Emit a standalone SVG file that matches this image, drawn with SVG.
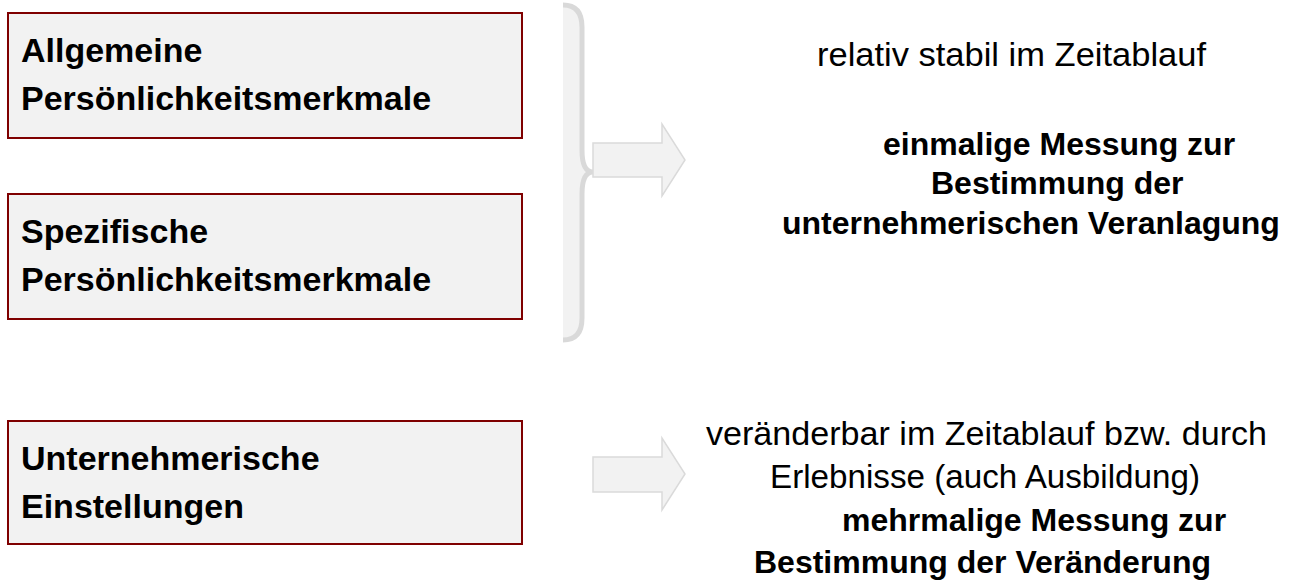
<svg xmlns="http://www.w3.org/2000/svg" width="1296" height="582" viewBox="0 0 1296 582">
<defs>
<style>
.box{fill:#f2f2f2;stroke:#7f0000;stroke-width:2}
.lbl{font-family:"Liberation Sans",Arial,sans-serif;font-weight:bold;font-size:34px;fill:#000}
.rb{font-family:"Liberation Sans",Arial,sans-serif;font-weight:bold;font-size:32px;fill:#000}
.rr{font-family:"Liberation Sans",Arial,sans-serif;font-size:33px;fill:#000}
.arrow{fill:#f2f2f2;stroke:#dadada;stroke-width:1.5}
.brace-fill{fill:#f2f2f2;stroke:none}
.brace{fill:none;stroke:#d9d9d9;stroke-width:5;stroke-linejoin:round}
</style>
</defs>
<rect width="1296" height="582" fill="#ffffff"/>
<g id="node-allgemeine">
<rect class="box" x="8" y="13" width="514" height="125"/>
<text class="lbl" x="21" y="62">Allgemeine</text>
<text class="lbl" x="21" y="110">Persönlichkeitsmerkmale</text>
</g>
<g id="node-spezifische">
<rect class="box" x="8" y="194" width="514" height="125"/>
<text class="lbl" x="21" y="243">Spezifische</text>
<text class="lbl" x="21" y="291">Persönlichkeitsmerkmale</text>
</g>
<g id="node-einstellungen">
<rect class="box" x="8" y="421" width="514" height="123"/>
<text class="lbl" x="21" y="470">Unternehmerische</text>
<text class="lbl" x="21" y="518">Einstellungen</text>
</g>
<g id="connectors">
<path class="brace-fill" d="M563,5 Q582,5 582,27 L582,150 Q582,172 593,172 Q582,172 582,194 L582,318 Q582,340 563,340 Z"/>
<path class="brace" d="M563,5 Q582,5 582,27 L582,150 Q582,172 593,172 Q582,172 582,194 L582,318 Q582,340 563,340"/>
<path class="arrow" d="M593,143 L662,143 L662,124 L685,160 L662,196 L662,177 L593,177 Z"/>
<path class="arrow" d="M593,457 L662,457 L662,438 L685,474 L662,510 L662,492 L593,492 Z"/>
</g>
<g id="node-stabil">
<text class="rr" x="817" y="66" textLength="389" lengthAdjust="spacingAndGlyphs">relativ stabil im Zeitablauf</text>
<text class="rb" x="883" y="155">einmalige Messung zur</text>
<text class="rb" x="931" y="194">Bestimmung der</text>
<text class="rb" x="782" y="234">unternehmerischen Veranlagung</text>
</g>
<g id="node-veraenderbar">
<text class="rr" x="706" y="445" textLength="561" lengthAdjust="spacingAndGlyphs">veränderbar im Zeitablauf bzw. durch</text>
<text class="rr" x="770" y="488" textLength="430" lengthAdjust="spacingAndGlyphs">Erlebnisse (auch Ausbildung)</text>
<text class="rb" x="842" y="531">mehrmalige Messung zur</text>
<text class="rb" x="754" y="573">Bestimmung der Veränderung</text>
</g>
</svg>
